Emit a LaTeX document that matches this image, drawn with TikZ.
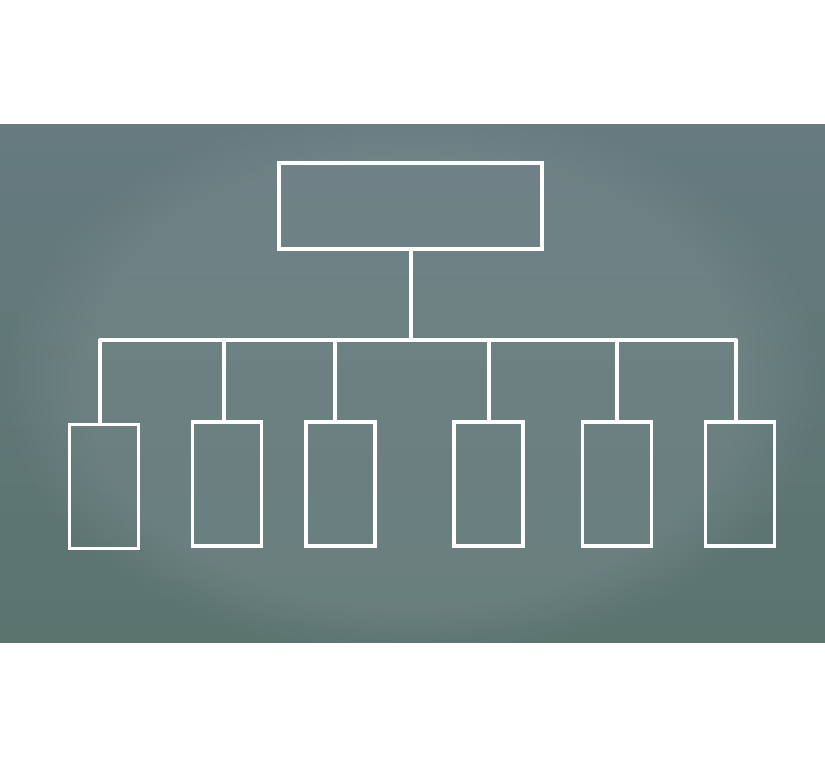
\documentclass[tikz,border=0pt]{standalone}
\usetikzlibrary{fadings}
\begin{document}
\begin{tikzpicture}[x=1pt,y=-1pt,
  chalkbox/.style={draw=white,line width=3.5pt,rectangle,inner sep=0pt},
  leaf/.style={chalkbox,minimum width=69pt,minimum height=124pt},
  chalk/.style={draw=white,line width=4pt}]
\definecolor{boardA}{HTML}{5A746E}
\definecolor{boardB}{HTML}{7C8C90}
\definecolor{boardTop}{HTML}{667A80}
\definecolor{boardMid}{HTML}{677C7C}
\useasboundingbox (0,0) rectangle (825,765);
\fill[white] (0,0) rectangle (825,765);
\begin{scope}
\clip (0,125) rectangle (825,642);
\shade[top color=boardTop,middle color=boardMid,bottom color=boardA] (0,125) rectangle (825,642);
\fill[boardB,opacity=0.45,path fading=circle with fuzzy edge 20 percent] (0,100) rectangle (825,660);
\end{scope}
% nodes
\node[chalkbox,minimum width=263pt,minimum height=86pt] (top) at (410.5,206) {};
\node[leaf] (b1) at (104,486.5) {};
\node[leaf] (b2) at (227,484) {};
\node[leaf] (b3) at (340.5,484) {};
\node[leaf] (b4) at (488.5,484) {};
\node[leaf] (b5) at (617,484) {};
\node[leaf] (b6) at (740,484) {};
% bus
\coordinate (bc) at (411,340);
\coordinate (d1) at (100,340);
\coordinate (d2) at (224,340);
\coordinate (d3) at (335,340);
\coordinate (d4) at (489,340);
\coordinate (d5) at (617,340);
\coordinate (d6) at (736,340);
\draw[chalk] (top.south -| bc) -- (bc);
\draw[chalk,line cap=round] (d1) -- (d6);
\foreach \i in {1,...,6} {
  \draw[chalk] (d\i) -- (d\i |- b\i.north);
}
\end{tikzpicture}
\end{document}
